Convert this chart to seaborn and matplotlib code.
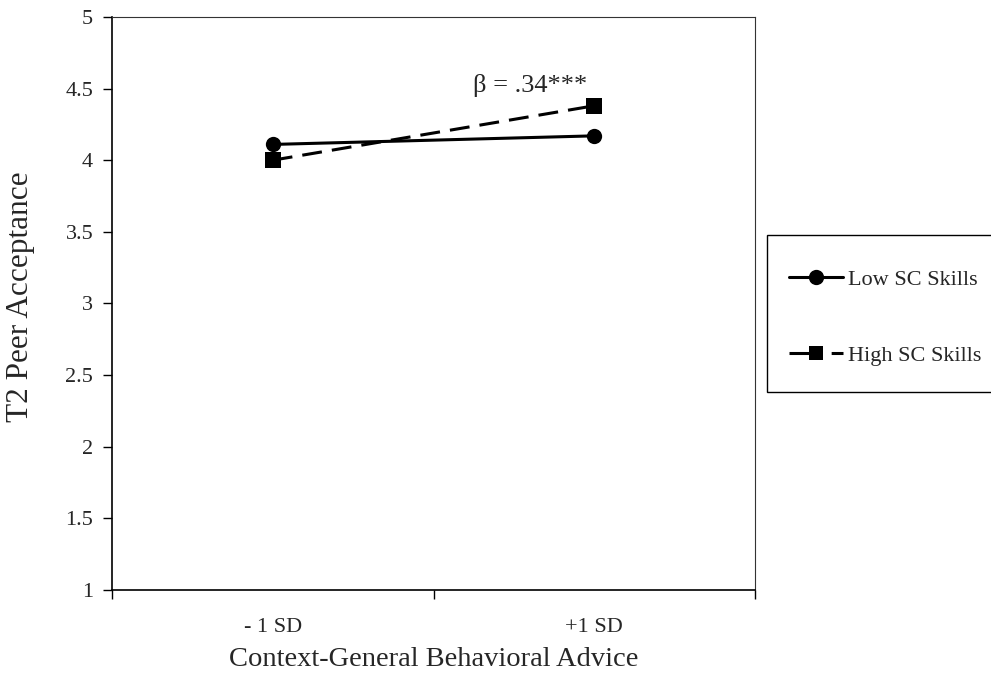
import matplotlib
matplotlib.use("Agg")
import matplotlib.pyplot as plt
import seaborn as sns
import pandas as pd
from matplotlib.lines import Line2D
from matplotlib.patches import Rectangle

# Simple slopes: T2 peer acceptance by behavioral advice level
advice_levels = ["- 1 SD", "+1 SD"]
low_sc = [4.11, 4.17]
high_sc = [4.00, 4.38]
groups = ["Low SC Skills", "High SC Skills"]

df = pd.DataFrame({
    "advice": [0, 1, 0, 1],
    "acceptance": low_sc + high_sc,
    "group": [groups[0]] * 2 + [groups[1]] * 2,
})

sns.set_theme(style="white")
plt.rcParams["font.family"] = ["Liberation Serif", "DejaVu Serif"]

W, H = 991, 677
fig = plt.figure(figsize=(W / 100, H / 100), dpi=100)
ax = fig.add_axes([0.113, 0.1285, 0.649, 0.8465])

dash_pat = (6.5, 3.3)
sns.lineplot(
    data=df, x="advice", y="acceptance", hue="group", style="group",
    hue_order=groups, style_order=groups,
    palette=["black", "black"],
    markers={groups[0]: "o", groups[1]: "s"},
    dashes={groups[0]: "", groups[1]: dash_pat},
    markersize=11, linewidth=2.2, markeredgewidth=0,
    ax=ax, legend=False,
)

ax.set_xlim(-0.5, 1.5)
ax.set_ylim(1, 5)
ax.set_yticks([1, 1.5, 2, 2.5, 3, 3.5, 4, 4.5, 5])
ax.set_yticklabels(["1", "1.5", "2", "2.5", "3", "3.5", "4", "4.5", "5"])
ax.set_xticks([0, 1])
ax.set_xticklabels(advice_levels)
ax.set_xticks([-0.5, 0.5, 1.5], minor=True)
ax.tick_params(axis="x", which="major", length=0, pad=20, labelsize=16)
ax.tick_params(axis="x", which="minor", length=6.5, width=1, color="black",
               direction="out", bottom=True)
ax.tick_params(axis="y", which="major", length=6.5, width=1, color="black",
               direction="out", left=True, labelsize=16, pad=7)

for side in ["left", "bottom"]:
    ax.spines[side].set_color("black")
    ax.spines[side].set_linewidth(1.2)
for side in ["top", "right"]:
    ax.spines[side].set_color("#333333")
    ax.spines[side].set_linewidth(0.8)

ax.set_xlabel("Context-General Behavioral Advice", fontsize=20.5, labelpad=7)
ax.set_ylabel("T2 Peer Acceptance", fontsize=22.5)
ax.yaxis.set_label_coords(-0.12, 0.512)

ax.text(0.978, 4.475, "\u03b2 = .34***", ha="right", va="baseline",
        fontsize=19)

# Legend box, running off the right edge of the figure
fig.patches.append(Rectangle(
    (767 / W, 1 - 392 / H), 260 / W, 157 / H,
    transform=fig.transFigure, facecolor="white", edgecolor="black",
    linewidth=1.0, clip_on=False,
))

handles = [
    Line2D([], [], color="black", lw=2.2, marker="o", markersize=11,
           markeredgewidth=0),
    Line2D([], [], color="black", lw=2.2, marker="s", markersize=10.5,
           markeredgewidth=0, linestyle=(0, (6.5, 7.3))),
]
leg = fig.legend(
    handles, groups, loc="upper left",
    bbox_to_anchor=(789 / W, 1 - 269 / H),
    frameon=False, fontsize=16,
    labelspacing=2.5, handlelength=2.45, handletextpad=0.2,
    borderpad=0, borderaxespad=0,
)

fig.savefig("out.png", dpi=100, facecolor="white")
